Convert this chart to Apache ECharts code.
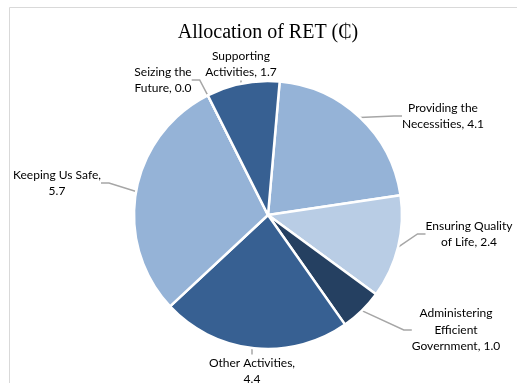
<!DOCTYPE html>
<html>
<head>
<meta charset="utf-8">
<script src="https://cdn.jsdelivr.net/npm/echarts@6/dist/echarts.min.js"></script>
<style>
  html, body { margin: 0; padding: 0; background: #fff; }
  #chart { width: 517px; height: 383px; }
</style>
</head>
<body>
<div id="chart"></div>
<script>
// Allocation categories, clockwise from the top of the pie
const categories = [
  'Providing the\nNecessities',
  'Ensuring Quality\nof Life',
  'Administering\nEfficient\nGovernment',
  'Other Activities,\n',
  'Keeping Us Safe,\n',
  'Seizing the\nFuture',
  'Supporting\nActivities'
];
const values = [4.1, 2.4, 1.0, 4.4, 5.7, 0.0, 1.7];
const sliceColors = ['#95B3D7', '#B9CDE5', '#254061', '#376092', '#95B3D7', '#95B3D7', '#376092'];

// label text for each slice: name, then value (some names already end the line)
function labelText(name, value) {
  const v = value.toFixed(1);
  return name.endsWith('\n') ? name + v : name + ', ' + v;
}

// where each label block sits (centre of the text)
const labelSpots = [
  [443, 116], [469, 234], [456, 330], [252, 371], [57, 183], [163, 80], [241, 64]
];

const chart = echarts.init(document.getElementById('chart'), null, { renderer: 'canvas' });

chart.setOption({
  animation: false,
  backgroundColor: '#fff',
  title: {
    text: 'Allocation of RET (\u20B5)',
    left: 263,
    top: 18,
    textAlign: 'center',
    textStyle: {
      fontFamily: "'Liberation Serif', 'DejaVu Serif', serif",
      fontSize: 20,
      fontWeight: 'normal',
      color: '#000'
    }
  },
  graphic: [{
    type: 'rect',
    shape: { x: 9.5, y: 7.5, width: 600, height: 500 },
    style: { fill: 'none', stroke: '#D9D9D9', lineWidth: 1 },
    silent: true,
    z: -1
  }],
  series: [{
    type: 'pie',
    center: [268, 215],
    radius: 134,
    startAngle: 85,
    clockwise: true,
    avoidLabelOverlap: false,
    data: categories.map((name, i) => ({
      name,
      value: values[i],
      itemStyle: { color: sliceColors[i] }
    })),
    itemStyle: { borderColor: '#fff', borderWidth: 2.5 },
    label: {
      show: true,
      position: 'outside',
      formatter: p => labelText(p.name, p.value),
      fontFamily: 'Lato, sans-serif',
      fontSize: 12,
      lineHeight: 16.5,
      color: '#000',
      align: 'center'
    },
    labelLine: {
      show: true,
      length: 10,
      length2: 8,
      lineStyle: { color: '#A6A6A6', width: 1.5 }
    },
    labelLayout: params => {
      const spot = labelSpots[params.dataIndex];
      return { x: spot[0], y: spot[1], align: 'center', verticalAlign: 'middle' };
    }
  }]
});
</script>
</body>
</html>
